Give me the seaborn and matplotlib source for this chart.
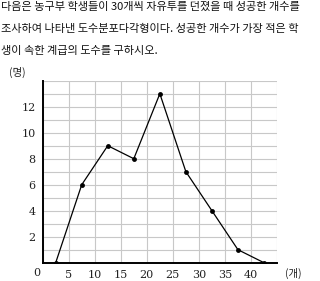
import matplotlib
matplotlib.use("Agg")
import matplotlib.pyplot as plt
import seaborn as sns
import pandas as pd

# data
class_mid = [2.5, 7.5, 12.5, 17.5, 22.5, 27.5, 32.5, 37.5, 42.5]
freq = [0, 6, 9, 8, 13, 7, 4, 1, 0]
x_ticks = [5, 10, 15, 20, 25, 30, 35, 40]
y_ticks = [2, 4, 6, 8, 10, 12]
question = ["다음은 농구부 학생들이 30개씩 자유투를 던졌을 때 성공한 개수를",
            "조사하여 나타낸 도수분포다각형이다. 성공한 개수가 가장 적은 학",
            "생이 속한 계급의 도수를 구하시오."]

sns.set_theme(style="white")
plt.rcParams['font.family'] = ['Noto Sans CJK KR', 'DejaVu Sans']

df = pd.DataFrame({"x": class_mid, "y": freq})
fig = plt.figure(figsize=(3.2, 2.81), dpi=100)
ax = fig.add_axes([0.1334, 0.0651, 0.7322, 0.6477])

sns.lineplot(data=df, x="x", y="y", ax=ax, color="black", linewidth=0.9,
             marker="o", markersize=3.5, markeredgewidth=0, zorder=5)

ax.set_xlim(0, 45)
ax.set_ylim(0, 14)
for v in range(0, 46, 5):
    ax.axvline(v, color="#c8c8c8", linewidth=0.8, zorder=1)
for v in range(0, 15):
    ax.axhline(v, color="#c8c8c8", linewidth=0.8, zorder=1)

for s in ["top", "right"]:
    ax.spines[s].set_visible(False)
ax.spines["left"].set_color("black")
ax.spines["left"].set_linewidth(1.4)
ax.spines["bottom"].set_color("black")
ax.spines["bottom"].set_linewidth(1.4)
ax.spines["left"].set_zorder(6)
ax.spines["bottom"].set_zorder(6)

ax.set_xticks(x_ticks)
ax.set_yticks(y_ticks)
ax.set_xticklabels([str(t) for t in x_ticks], family="DejaVu Serif", fontsize=8)
ax.set_yticklabels([str(t) for t in y_ticks], family="DejaVu Serif", fontsize=8)
ax.tick_params(length=0, pad=5, colors="#222222")
ax.set_xlabel("")
ax.set_ylabel("")

ax.text(-1.1, -0.4, "0", ha="center", va="top", family="DejaVu Serif", fontsize=8,
        color="#222222")
ax.text(48.1, -0.4, "(개)", ha="center", va="top", fontsize=7.5, color="#222222")
ax.text(-4.9, 14.6, "(명)", ha="center", va="center", fontsize=7.5, color="#222222")

ys = [7, 29, 51]
for line, yy in zip(question, ys):
    fig.text(0.003, 1 - yy / 281, line, ha="left", va="center", fontsize=8.05,
             color="#111111")

fig.savefig("out.png", dpi=100)
